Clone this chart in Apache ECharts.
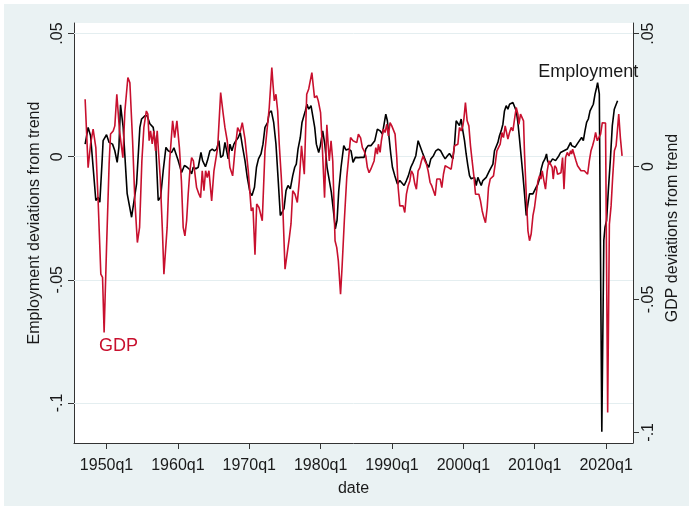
<!DOCTYPE html>
<html>
<head>
<meta charset="utf-8">
<title>Employment and GDP deviations from trend</title>
<script src="https://cdn.jsdelivr.net/npm/echarts@6/dist/echarts.min.js"></script>
<style>
  html, body { margin: 0; padding: 0; background: #fff; }
  #wrap { width: 693px; height: 510px; position: relative; }
  #chart { position: absolute; left: 4px; top: 4px; width: 685px; height: 502px; }
</style>
</head>
<body>
<div id="wrap"><div id="chart"></div></div>
<script>
// decimal year of each reading, and the deviation from trend
const empDates = [
  1947.0, 1947.42, 1947.76, 1948.12, 1948.5, 1948.82, 1949.06, 1949.38, 1949.52, 1950.0,
  1950.36, 1950.84, 1951.16, 1951.49, 1951.73, 1951.96, 1952.33, 1952.89, 1953.51, 1954.21,
  1954.67, 1954.91, 1955.37, 1955.69, 1956.07, 1956.54, 1956.91, 1957.24, 1957.57, 1957.94,
  1958.32, 1958.64, 1959.12, 1959.44, 1960.04, 1960.52, 1960.91, 1961.26, 1961.58, 1961.92,
  1962.15, 1962.52, 1962.85, 1963.23, 1963.46, 1963.86, 1964.14, 1964.49, 1964.81, 1965.12,
  1965.43, 1965.75, 1965.99, 1966.31, 1966.59, 1966.83, 1967.05, 1967.29, 1967.57, 1967.85,
  1968.13, 1968.46, 1968.74, 1969.07, 1969.4, 1969.72, 1970.1, 1970.38, 1970.73, 1971.01,
  1971.29, 1971.64, 1971.92, 1972.2, 1972.58, 1972.8, 1973.09, 1973.42, 1973.74, 1974.03,
  1974.35, 1974.59, 1974.87, 1975.15, 1975.43, 1975.75, 1976.09, 1976.37, 1976.59, 1976.83,
  1977.15, 1977.39, 1977.63, 1977.85, 1978.09, 1978.33, 1978.65, 1978.93, 1979.17, 1979.4,
  1979.73, 1979.96, 1980.29, 1980.58, 1980.9, 1981.22, 1981.5, 1981.84, 1982.06, 1982.3,
  1982.54, 1982.86, 1983.24, 1983.56, 1983.94, 1984.26, 1984.54, 1984.87, 1985.1, 1985.29,
  1985.67, 1986.09, 1986.33, 1986.65, 1987.07, 1987.35, 1987.59, 1987.95, 1988.33, 1988.65,
  1988.89, 1989.13, 1989.35, 1989.59, 1989.83, 1990.06, 1990.39, 1990.76, 1991.09, 1991.37,
  1991.7, 1992.02, 1992.3, 1992.64, 1992.96, 1993.34, 1993.66, 1993.94, 1994.26, 1994.6,
  1994.88, 1995.16, 1995.44, 1995.81, 1996.14, 1996.47, 1996.82, 1997.17, 1997.45, 1997.77,
  1998.05, 1998.53, 1998.75, 1998.99, 1999.23, 1999.45, 1999.69, 1999.93, 2000.16, 2000.39,
  2000.63, 2000.86, 2001.09, 2001.33, 2001.56, 2001.8, 2002.03, 2002.26, 2002.5, 2002.73,
  2002.96, 2003.2, 2003.44, 2003.66, 2003.9, 2004.14, 2004.36, 2004.6, 2004.84, 2005.06,
  2005.3, 2005.54, 2005.76, 2006.0, 2006.24, 2006.47, 2006.7, 2006.94, 2007.17, 2007.41,
  2007.64, 2007.87, 2008.11, 2008.35, 2008.57, 2008.81, 2009.05, 2009.27, 2009.5, 2009.75,
  2009.97, 2010.21, 2010.45, 2010.67, 2010.91, 2011.15, 2011.43, 2011.65, 2011.79, 2012.03,
  2012.27, 2012.5, 2012.73, 2012.92, 2013.16, 2013.39, 2013.62, 2013.86, 2014.09, 2014.32,
  2014.56, 2014.8, 2015.03, 2015.17, 2015.4, 2015.64, 2015.87, 2016.1, 2016.34, 2016.57,
  2016.81, 2017.04, 2017.27, 2017.51, 2017.75, 2017.97, 2018.21, 2018.45, 2018.67, 2018.81,
  2019.05, 2019.4, 2019.68, 2019.85, 2020.07, 2020.31, 2020.59, 2020.87, 2021.15, 2021.39,
  2021.61
];
const empValues = [
  0.0051, 0.0119, 0.0085, -0.0043, -0.0178, -0.0165, -0.0185, -0.0016, 0.0065, 0.0089,
  0.0058, 0.0051, 0.0024, -0.0023, 0.0038, 0.0211, 0.0119, -0.0150, -0.0246, -0.0109,
  0.0119, 0.0153, 0.0166, 0.0166, 0.0134, 0.0119, 0.0038, -0.0178, -0.0165, -0.0057,
  0.0038, 0.0024, 0.0017, 0.0036, -0.0016, -0.0064, -0.0036, -0.0042, -0.0050, -0.0070,
  -0.0043, -0.0049, -0.0043, 0.0017, -0.0016, -0.0041, -0.0016, 0.0024, 0.0031, 0.0024,
  0.0031, 0.0065, -0.0003, 0.0004, 0.0058, 0.0024, -0.0009, 0.0051, 0.0024, 0.0051,
  0.0065, 0.0078, 0.0098, 0.0038, -0.0016, -0.0084, -0.0145, -0.0158, -0.0124, -0.0043,
  -0.0009, 0.0011, 0.0051, 0.0119, 0.0139, 0.0179, 0.0186, 0.0139, 0.0051, -0.0084,
  -0.0239, -0.0246, -0.0211, -0.0138, -0.0117, -0.0131, -0.0077, -0.0043, -0.0030, 0.0031,
  0.0078, 0.0139, 0.0146, 0.0186, 0.0213, 0.0193, 0.0207, 0.0200, 0.0119, 0.0051,
  0.0017, 0.0045, 0.0105, 0.0051, -0.0043, -0.0097, -0.0145, -0.0232, -0.0293, -0.0259,
  -0.0138, -0.0043, 0.0045, 0.0027, 0.0031, 0.0024, -0.0023, -0.0003, 0.0004, -0.0004,
  -0.0003, -0.0003, 0.0031, 0.0045, 0.0045, 0.0051, 0.0065, 0.0112, 0.0105, 0.0092,
  0.0132, 0.0173, 0.0146, 0.0078, 0.0011, -0.0043, -0.0077, -0.0111, -0.0097, -0.0097,
  -0.0117, -0.0097, -0.0077, -0.0043, -0.0023, 0.0004, 0.0065, 0.0058, 0.0017, -0.0009,
  -0.0030, -0.0043, -0.0009, 0.0004, 0.0024, 0.0031, 0.0024, 0.0004, -0.0009, 0.0004,
  0.0013, -0.0009, 0.0045, 0.0146, 0.0139, 0.0126, 0.0153, 0.0105, 0.0065, 0.0011,
  -0.0036, -0.0077, -0.0090, -0.0090, -0.0084, -0.0117, -0.0084, -0.0090, -0.0117, -0.0097,
  -0.0097, -0.0084, -0.0077, -0.0057, -0.0057, -0.0030, 0.0024, 0.0031, 0.0058, 0.0085,
  0.0105, 0.0132, 0.0186, 0.0207, 0.0193, 0.0213, 0.0220, 0.0220, 0.0213, 0.0186,
  0.0139, 0.0071, -0.0003, -0.0077, -0.0151, -0.0239, -0.0191, -0.0151, -0.0145, -0.0151,
  -0.0138, -0.0124, -0.0111, -0.0090, -0.0050, -0.0024, -0.0009, 0.0011, -0.0016, -0.0030,
  -0.0023, -0.0009, -0.0016, -0.0016, -0.0009, 0.0004, 0.0017, 0.0024, 0.0024, 0.0017,
  0.0031, 0.0024, 0.0058, 0.0045, 0.0045, 0.0038, 0.0045, 0.0058, 0.0065, 0.0078,
  0.0065, 0.0105, 0.0139, 0.0153, 0.0186, 0.0193, 0.0213, 0.0254, 0.0281, 0.0301,
  0.0255, -0.1117, -0.0340, -0.0286, -0.0259, -0.0138, -0.0016, 0.0126, 0.0193, 0.0211,
  0.0227
];

const gdpDates = [
  1947.0, 1947.42, 1947.76, 1948.12, 1948.5, 1948.82, 1949.2, 1949.44, 1949.66, 1950.0,
  1950.36, 1950.56, 1950.93, 1951.16, 1951.44, 1951.82, 1952.29, 1952.57, 1952.99, 1953.27,
  1953.65, 1953.97, 1954.32, 1954.63, 1954.95, 1955.23, 1955.58, 1955.79, 1955.97, 1956.17,
  1956.4, 1956.63, 1956.87, 1957.1, 1957.29, 1957.52, 1957.83, 1958.04, 1958.27, 1958.49,
  1958.84, 1959.26, 1959.54, 1959.86, 1960.21, 1960.49, 1960.74, 1960.98, 1961.22, 1961.44,
  1961.68, 1961.92, 1962.17, 1962.38, 1962.62, 1962.95, 1963.18, 1963.41, 1963.65, 1963.88,
  1964.11, 1964.35, 1964.73, 1965.05, 1965.33, 1965.57, 1965.99, 1966.35, 1966.59, 1966.91,
  1967.29, 1967.67, 1967.99, 1968.37, 1968.7, 1969.02, 1969.4, 1969.86, 1970.28, 1970.52,
  1970.8, 1971.04, 1971.36, 1971.57, 1971.82, 1972.2, 1972.48, 1972.8, 1973.16, 1973.32,
  1973.51, 1973.74, 1973.98, 1974.2, 1974.49, 1974.72, 1975.01, 1975.29, 1975.61, 1975.85,
  1976.09, 1976.41, 1976.73, 1977.01, 1977.32, 1977.71, 1978.05, 1978.33, 1978.77, 1979.14,
  1979.45, 1979.67, 1979.99, 1980.24, 1980.55, 1980.87, 1981.21, 1981.46, 1981.7, 1982.02,
  1982.26, 1982.48, 1982.79, 1983.0, 1983.32, 1983.66, 1984.19, 1984.54, 1985.06, 1985.29,
  1985.6, 1985.85, 1986.09, 1986.33, 1986.55, 1986.79, 1987.03, 1987.25, 1987.49, 1987.73,
  1987.95, 1988.09, 1988.33, 1988.51, 1988.79, 1989.03, 1989.27, 1989.49, 1989.73, 1989.97,
  1990.2, 1990.43, 1990.67, 1990.86, 1991.09, 1991.32, 1991.56, 1991.79, 1992.02, 1992.26,
  1992.5, 1992.72, 1992.96, 1993.2, 1993.42, 1993.66, 1993.9, 1994.12, 1994.36, 1994.6,
  1994.82, 1995.06, 1995.34, 1995.58, 1995.81, 1996.05, 1996.28, 1996.51, 1996.75, 1996.98,
  1997.21, 1997.45, 1997.69, 1997.91, 1998.05, 1998.29, 1998.53, 1998.75, 1998.99, 1999.23,
  1999.45, 1999.69, 1999.93, 2000.07, 2000.29, 2000.53, 2000.77, 2001.0, 2001.23, 2001.47,
  2001.7, 2001.94, 2002.17, 2002.4, 2002.64, 2002.87, 2003.1, 2003.34, 2003.52, 2003.76,
  2004.0, 2004.22, 2004.46, 2004.7, 2004.92, 2005.16, 2005.4, 2005.62, 2005.86, 2006.1,
  2006.24, 2006.47, 2006.7, 2006.94, 2007.17, 2007.41, 2007.64, 2007.78, 2008.01, 2008.25,
  2008.43, 2008.57, 2008.81, 2009.05, 2009.27, 2009.5, 2009.75, 2009.97, 2010.21, 2010.45,
  2010.67, 2010.87, 2011.05, 2011.29, 2011.51, 2011.75, 2011.99, 2012.21, 2012.45, 2012.59,
  2012.8, 2013.02, 2013.2, 2013.44, 2013.68, 2013.9, 2014.1, 2014.32, 2014.56, 2014.8,
  2015.03, 2015.17, 2015.31, 2015.55, 2015.79, 2016.0, 2016.24, 2016.48, 2016.71, 2016.95,
  2017.19, 2017.41, 2017.65, 2017.88, 2018.11, 2018.35, 2018.53, 2018.77, 2019.01, 2019.23,
  2019.47, 2019.71, 2019.92, 2020.22, 2020.46, 2020.7, 2020.92, 2021.16, 2021.4, 2021.58,
  2021.77, 2022.0, 2022.24
];
const gdpValues = [
  0.0253, -0.0004, 0.0084, 0.0141, 0.0071, -0.0129, -0.0405, -0.0417, -0.0624, -0.0305,
  0.0009, 0.0122, 0.0134, 0.0153, 0.0272, 0.0134, 0.0033, 0.0209, 0.0335, 0.0315,
  0.0097, -0.0129, -0.0286, -0.0229, 0.0021, 0.0147, 0.0209, 0.0197, 0.0097, 0.0134,
  0.0085, 0.0134, 0.0059, 0.0134, 0.0053, -0.0041, -0.0242, -0.0405, -0.0405, -0.0229,
  0.0021, 0.0172, 0.0109, 0.0172, 0.0071, -0.0054, -0.0229, -0.0261, -0.0204, -0.0104,
  -0.0016, 0.0034, 0.0021, 0.0014, -0.0079, -0.0104, -0.0117, -0.0016, -0.0091, -0.0016,
  -0.0041, -0.0016, -0.0129, -0.0016, -0.0023, 0.0071, 0.0278, 0.0197, 0.0147, 0.0097,
  -0.0004, -0.0035, 0.0059, 0.0147, 0.0128, 0.0165, 0.0103, -0.0016, -0.0167, -0.0154,
  -0.0332, -0.0141, -0.0154, -0.0148, -0.0204, 0.0059, 0.0052, 0.0222, 0.0372, 0.0311,
  0.0247, 0.0272, 0.0209, 0.0084, -0.0041, -0.0167, -0.0386, -0.0386, -0.0268, -0.0215,
  -0.0091, -0.0104, -0.0135, -0.0054, 0.0078, -0.0029, 0.0272, 0.0292, 0.0353, 0.0259,
  0.0266, 0.0247, 0.0203, 0.0071, -0.0117, 0.0157, 0.0021, 0.0097, 0.0021, -0.0279,
  -0.0305, -0.0355, -0.0480, -0.0380, -0.0204, -0.0041, 0.0109, 0.0097, 0.0090, 0.0122,
  0.0108, 0.0071, 0.0059, 0.0040, -0.0004, -0.0023, -0.0010, -0.0016, 0.0021, 0.0071,
  0.0047, 0.0084, 0.0053, 0.0097, 0.0141, 0.0128, 0.0159, 0.0115, 0.0165, 0.0153,
  0.0159, 0.0122, 0.0034, -0.0079, -0.0148, -0.0141, -0.0148, -0.0173, -0.0104, -0.0073,
  -0.0054, -0.0016, -0.0029, -0.0066, -0.0085, -0.0016, -0.0004, 0.0021, 0.0040, 0.0021,
  0.0009, -0.0016, -0.0060, -0.0073, -0.0091, -0.0110, -0.0047, -0.0041, -0.0047, -0.0079,
  -0.0029, 0.0003, 0.0009, -0.0004, -0.0001, -0.0010, 0.0034, 0.0078, 0.0071, 0.0084,
  0.0147, 0.0134, 0.0153, 0.0178, 0.0241, 0.0172, 0.0153, 0.0078, 0.0021, -0.0035,
  -0.0104, -0.0110, -0.0104, -0.0129, -0.0167, -0.0192, -0.0211, -0.0154, -0.0079, -0.0047,
  -0.0054, -0.0035, 0.0009, 0.0059, 0.0065, 0.0084, 0.0128, 0.0109, 0.0153, 0.0147,
  0.0103, 0.0128, 0.0147, 0.0134, 0.0178, 0.0222, 0.0197, 0.0159, 0.0197, 0.0191,
  0.0172, 0.0047, -0.0104, -0.0242, -0.0279, -0.0254, -0.0185, -0.0154, -0.0104, -0.0054,
  -0.0035, -0.0047, -0.0016, -0.0054, -0.0085, -0.0016, 0.0021, 0.0021, -0.0004, -0.0047,
  0.0003, -0.0005, -0.0029, -0.0035, -0.0023, 0.0034, -0.0085, 0.0034, 0.0053, 0.0040,
  0.0059, 0.0047, 0.0065, 0.0071, 0.0021, 0.0003, 0.0003, -0.0016, -0.0010, -0.0016,
  -0.0023, -0.0029, 0.0021, 0.0059, 0.0078, 0.0103, 0.0128, 0.0097, 0.0097, 0.0122,
  0.0165, 0.0172, 0.0164, -0.0925, -0.0217, -0.0148, -0.0041, 0.0059, 0.0078, 0.0134,
  0.0197, 0.0109, 0.0040
];

const yearTicks = [1950, 1960, 1970, 1980, 1990, 2000, 2010, 2020];
const devTicks = [-0.1, -0.05, 0, 0.05];

const font = '"Liberation Sans", Arial, sans-serif';
const ink = '#1a1a1a';
const red = '#c8102e';

// Stata style: ".05", "-.1"
function stataNum(v) {
    if (v === 0) return '0';
    return (v < 0 ? '-' : '') + String(+Math.abs(v).toFixed(4)).replace(/^0/, '');
}

function axisY(extra) {
    return Object.assign({
        type: 'value',
        nameLocation: 'middle',
        axisLine: { show: true, onZero: false, lineStyle: { color: '#333', width: 1 } },
        axisTick: { show: true, length: 6, customValues: devTicks, lineStyle: { color: '#333' } },
        axisLabel: {
            customValues: devTicks,
            rotate: 90,
            margin: 8,
            color: ink,
            fontFamily: font,
            fontSize: 16,
            formatter: stataNum
        },
        splitLine: { show: false }
    }, extra);
}

const chart = echarts.init(document.getElementById('chart'), null, { renderer: 'canvas' });

chart.setOption({
    animation: false,
    backgroundColor: '#eaf2f3',
    grid: {
        left: 70, right: 56, top: 19, bottom: 63,
        show: true, backgroundColor: '#ffffff', borderWidth: 0
    },
    xAxis: {
        type: 'value',
        min: 1945.44,
        max: 2023.77,
        name: 'date',
        nameLocation: 'middle',
        nameGap: 38,
        nameTextStyle: { color: ink, fontFamily: font, fontSize: 16 },
        axisLine: { show: true, onZero: false, lineStyle: { color: '#333', width: 1 } },
        axisTick: { show: true, length: 6, customValues: yearTicks, lineStyle: { color: '#333' } },
        axisLabel: {
            customValues: yearTicks,
            margin: 15,
            color: ink,
            fontFamily: font,
            fontSize: 16,
            formatter: v => v + 'q1'
        },
        splitLine: { show: false }
    },
    yAxis: [
        axisY({
            position: 'left',
            min: -0.1163,
            max: 0.0543,
            name: 'Employment deviations from trend',
            nameGap: 29,
            nameTextStyle: { color: ink, fontFamily: font, fontSize: 16, padding: [0, 0, 0, 20] }
        }),
        axisY({
            position: 'right',
            min: -0.104,
            max: 0.054,
            name: 'GDP deviations from trend',
            nameGap: 28,
            nameTextStyle: { color: ink, fontFamily: font, fontSize: 16, padding: [0, 0, 0, 10] }
        })
    ],
    series: [
        {
            // holds the horizontal grid lines of the left axis
            type: 'line',
            yAxisIndex: 0,
            data: [],
            silent: true,
            markLine: {
                z: 1,
                silent: true,
                symbol: 'none',
                label: { show: false },
                lineStyle: { color: '#e4eef0', width: 1, type: 'solid' },
                data: devTicks.map(v => ({ yAxis: v }))
            }
        },
        {
            name: 'Employment',
            type: 'line',
            yAxisIndex: 0,
            z: 3,
            showSymbol: false,
            symbol: 'none',
            lineStyle: { color: '#000', width: 1.6 },
            data: empDates.map((d, i) => [d, empValues[i]]),
            markPoint: {
                symbol: 'circle',
                symbolSize: 1,
                itemStyle: { color: 'rgba(0,0,0,0)' },
                label: { show: true, position: 'inside', color: ink, fontFamily: font, fontSize: 18, formatter: 'Employment' },
                data: [{ coord: [2017.51, 0.0345] }]
            }
        },
        {
            name: 'GDP',
            type: 'line',
            yAxisIndex: 1,
            z: 4,
            showSymbol: false,
            symbol: 'none',
            lineStyle: { color: red, width: 1.6 },
            data: gdpDates.map((d, i) => [d, gdpValues[i]]),
            markPoint: {
                symbol: 'circle',
                symbolSize: 1,
                itemStyle: { color: 'rgba(0,0,0,0)' },
                label: { show: true, position: 'inside', color: red, fontFamily: font, fontSize: 18, formatter: 'GDP' },
                data: [{ coord: [1951.68, -0.0676] }]
            }
        }
    ]
});
</script>
</body>
</html>
